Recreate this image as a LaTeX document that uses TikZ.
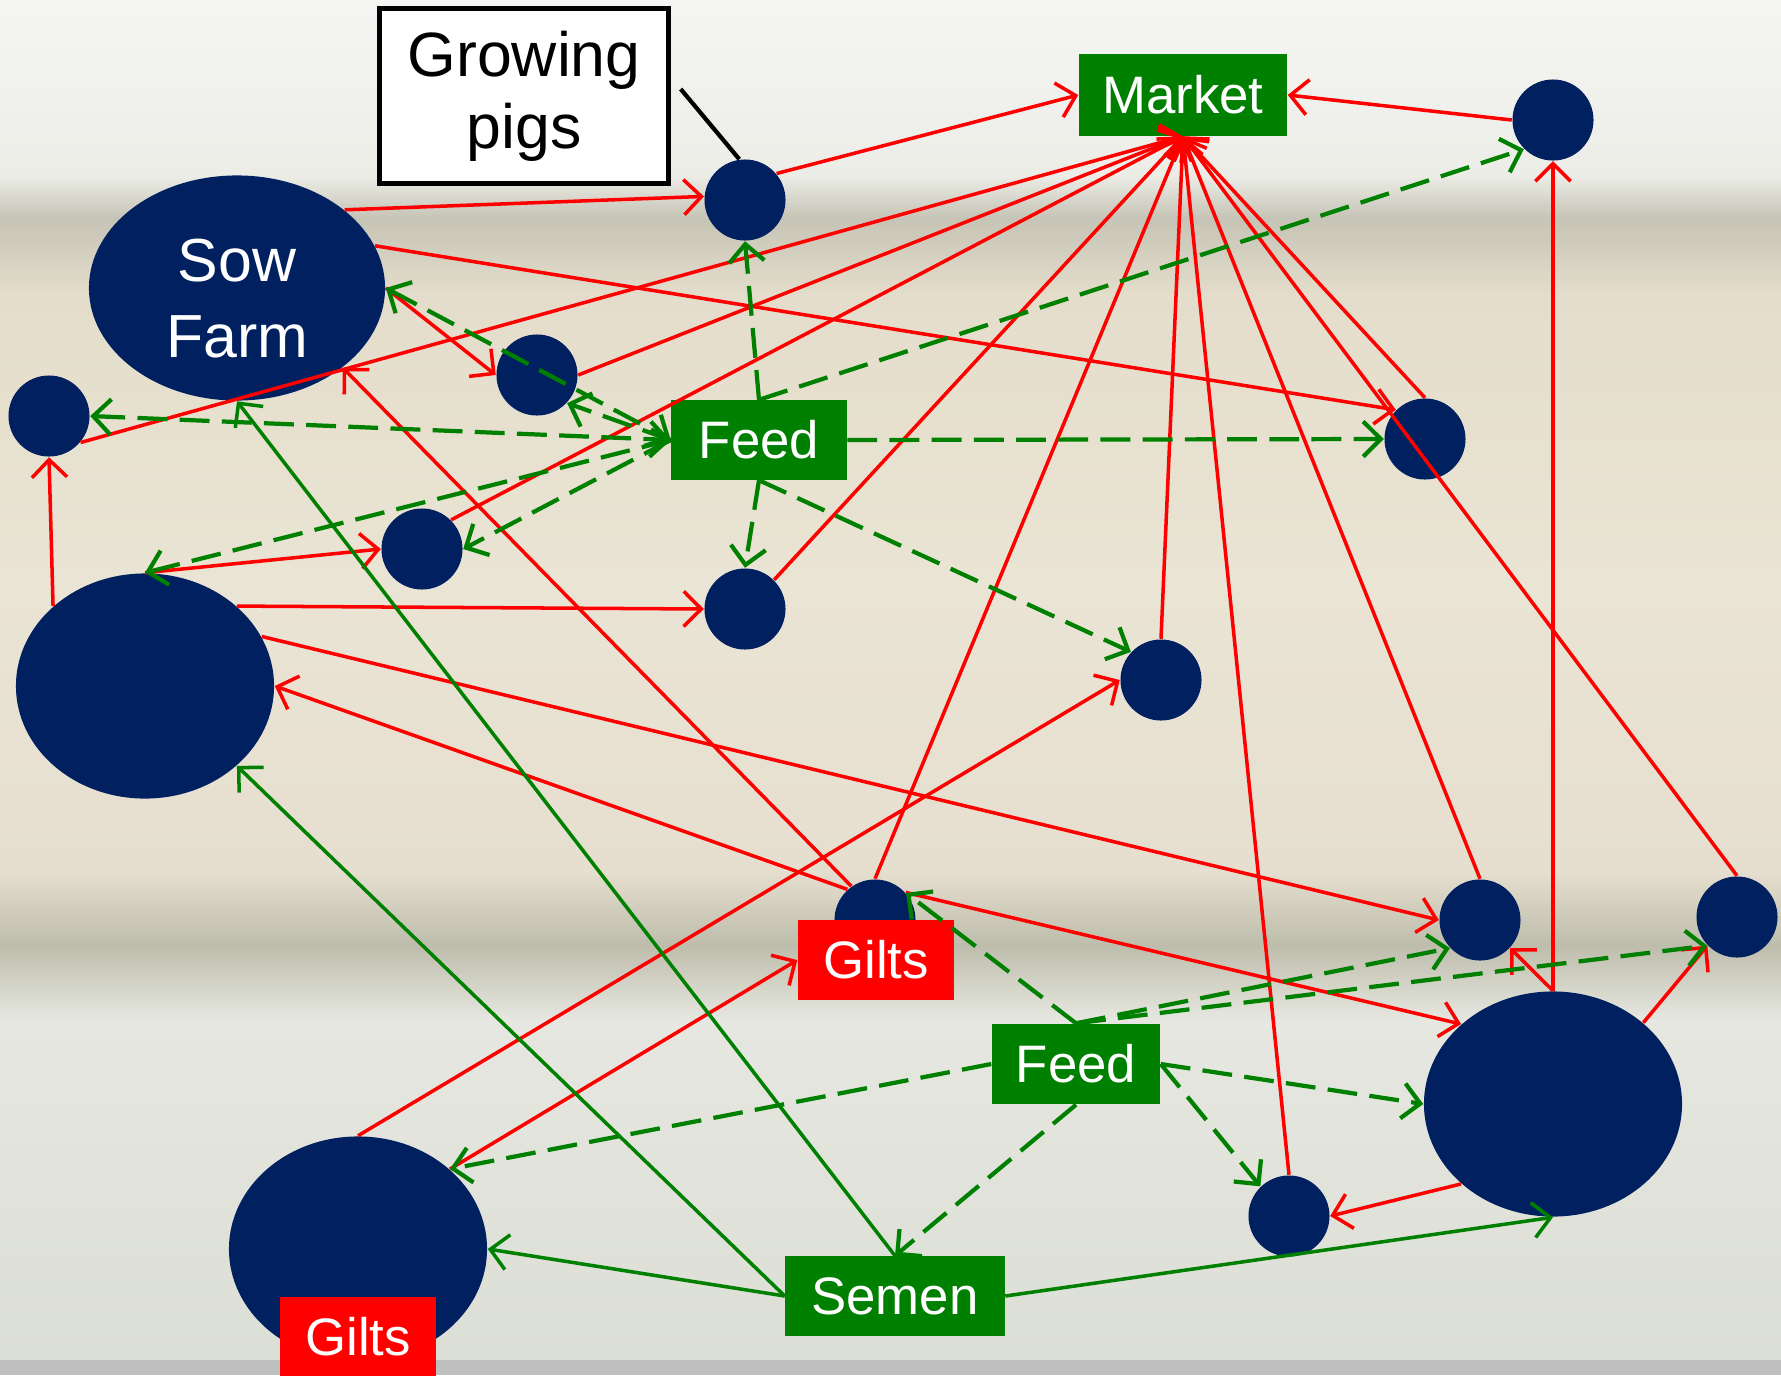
\documentclass[tikz,border=0pt]{standalone}
\usepackage{fontspec}
\setmainfont{Liberation Sans}
\usetikzlibrary{shapes,arrows,positioning,calc,arrows.meta}
\definecolor{navy}{RGB}{0,32,96}
\definecolor{leaf}{RGB}{0,128,0}

\begin{document}
\begin{tikzpicture}[x=0.01cm, y=-0.01cm,
    >={Straight Barb[length=5pt,width=10pt]},
    pen/.style={circle, fill=navy, minimum size=0.81cm, inner sep=0pt},
    bigpen/.style={ellipse, fill=navy, minimum width=2.58cm, minimum height=2.25cm, inner sep=0pt},
    tag/.style={fill=leaf, text=white, inner sep=0pt, minimum height=0.8cm, font=\fontsize{15}{17}\selectfont},
    gilt/.style={tag, fill=red},
    move/.style={->, red, line width=1pt},
    feedline/.style={->, leaf, line width=1.2pt, dash pattern=on 8.5pt off 3.5pt},
    semenline/.style={->, leaf, line width=1pt}]

    \useasboundingbox (0,0) rectangle (1781,1375);
    \fill[top color={rgb,255:red,245;green,246;blue,243}, bottom color={rgb,255:red,236;green,237;blue,231}] (0,0) rectangle (1781,175);
    \fill[top color={rgb,255:red,236;green,237;blue,231}, bottom color={rgb,255:red,198;green,196;blue,182}] (0,175) rectangle (1781,218);
    \fill[top color={rgb,255:red,198;green,196;blue,182}, bottom color={rgb,255:red,228;green,221;blue,203}] (0,218) rectangle (1781,295);
    \fill[top color={rgb,255:red,228;green,221;blue,203}, bottom color={rgb,255:red,230;green,223;blue,207}, middle color={rgb,255:red,234;green,228;blue,212}] (0,295) rectangle (1781,870);
    \fill[top color={rgb,255:red,230;green,223;blue,207}, bottom color={rgb,255:red,190;green,189;blue,172}] (0,870) rectangle (1781,945);
    \fill[top color={rgb,255:red,190;green,189;blue,172}, bottom color={rgb,255:red,230;green,231;blue,224}] (0,945) rectangle (1781,1020);
    \fill[top color={rgb,255:red,230;green,231;blue,224}, bottom color={rgb,255:red,220;green,223;blue,214}] (0,1020) rectangle (1781,1360);
    \fill[gray!50] (0,1360) rectangle (1781,1375);

    \node[bigpen, minimum width=2.96cm, text=white, align=center, font=\fontsize{17.3}{21.6}\selectfont] (sow) at (237,288) {\rule{0pt}{18pt}Sow\\Farm};
    \node[draw, line width=1.2pt, fill=white, minimum width=2.89cm, minimum height=1.75cm, align=center, font=\fontsize{17.8}{20.5}\selectfont] (gplabel) at (524,96) {Growing\\pigs};
    \node[tag, minimum width=2.08cm, minimum height=0.81cm] (mkt) at (1183,95) {Market};
    \node[pen] (gp) at (745,200) {};
    \node[pen] (f) at (1553,120) {};
    \node[pen] (a) at (537,375) {};
    \node[pen] (b) at (49,416) {};
    \node[pen] (c) at (422,549) {};
    \node[pen] (d) at (745,609) {};
    \node[pen] (g) at (1425,439) {};
    \node[pen] (h) at (1161,680) {};
    \node[pen] (i) at (875,920) {};
    \node[pen] (j) at (1480,920) {};
    \node[pen] (k) at (1737,917) {};
    \node[pen] (m) at (1289,1216) {};
    \node[bigpen] (e) at (145,686) {};
    \node[bigpen] (l) at (1553,1104) {};
    \node[bigpen] (n) at (358,1249) {};
    \node[tag, minimum width=1.75cm, minimum height=0.79cm] (feedA) at (759,440) {Feed};
    \node[tag, minimum width=1.68cm] (feedB) at (1076,1064) {Feed};
    \node[tag, minimum width=2.19cm, minimum height=0.79cm] (semen) at (895,1296) {Semen};
    \node[gilt, minimum width=1.56cm] (giltsA) at (876,960) {Gilts};
    \node[gilt, minimum width=1.56cm] (giltsB) at (358,1337) {Gilts};

    \draw[line width=1.2pt] ($(gplabel.east)+(10,-7)$) -- (gp.98);

    \draw[move] (sow.36) -- (gp.175);
    \draw[move] (gp.40) -- (mkt.west);
    \draw[move] (f.west) -- (mkt.east);
    \draw[move] (b.-40) -- (mkt.south);
    \draw[move] (a.east) -- (mkt.south);
    \draw[move] (c.45) -- (mkt.south);
    \draw[move] (d.45) -- (mkt.south);
    \draw[move] (i.north) -- (mkt.south);
    \draw[move] (h.north) -- (mkt.south);
    \draw[move] (m.north) -- (mkt.south);
    \draw[move] (j.north) -- (mkt.south);
    \draw[move] (k.north) -- (mkt.south);
    \draw[move] (g.north) -- (mkt.south);
    \draw[move] (sow.17) -- (g.135);
    \draw[move] (sow.east) -- (a.west);
    \draw[move] (e.139) -- (b.south);
    \draw[move] (e.north) -- (c.west);
    \draw[move] (e.41) -- (d.west);
    \draw[move] (e.23) -- (j.west);
    \draw[move] (i.132) -- (e.east);
    \draw[move] (i.125) -- (sow.-37);
    \draw[move] (i.42) -- (l.139);
    \draw[move] (n.north) -- (h.west);
    \draw[move] (n.41) -- (giltsA.west);
    \draw[move] (l.221) -- (m.east);
    \draw[move] (l.north) -- (j.-43);
    \draw[move] (l.42) -- (k.224);
    \draw[move] (l.north) -- (f.south);

    \draw[feedline] (feedA.north) -- (gp.south);
    \draw[feedline, <->] (sow.east) -- (feedA.west);
    \draw[feedline] (feedA.west) -- (a.-43);
    \draw[feedline, <->] (b.east) -- (feedA.west);
    \draw[feedline] (feedA.west) -- (e.north);
    \draw[feedline] (feedA.west) -- (c.east);
    \draw[feedline] (feedA.east) -- (g.west);
    \draw[feedline] (feedA.north) -- (f.225);
    \draw[feedline] (feedA.south) -- (d.north);
    \draw[feedline] (feedA.south) -- (h.137);

    \draw[feedline] (feedB.north) -- (i.41);
    \draw[feedline] (feedB.north) -- (j.223);
    \draw[feedline] (feedB.north) -- (k.224);
    \draw[feedline] (feedB.east) -- (l.west);
    \draw[feedline] (feedB.east) -- (m.134);
    \draw[feedline] (feedB.south) -- (semen.north);
    \draw[feedline] (feedB.west) -- (n.41);

    \draw[semenline] (semen.north) -- (sow.south);
    \draw[semenline] (semen.west) -- (e.-41);
    \draw[semenline] (semen.west) -- (n.east);
    \draw[semenline] (semen.east) -- (l.south);
\end{tikzpicture}
\end{document}
